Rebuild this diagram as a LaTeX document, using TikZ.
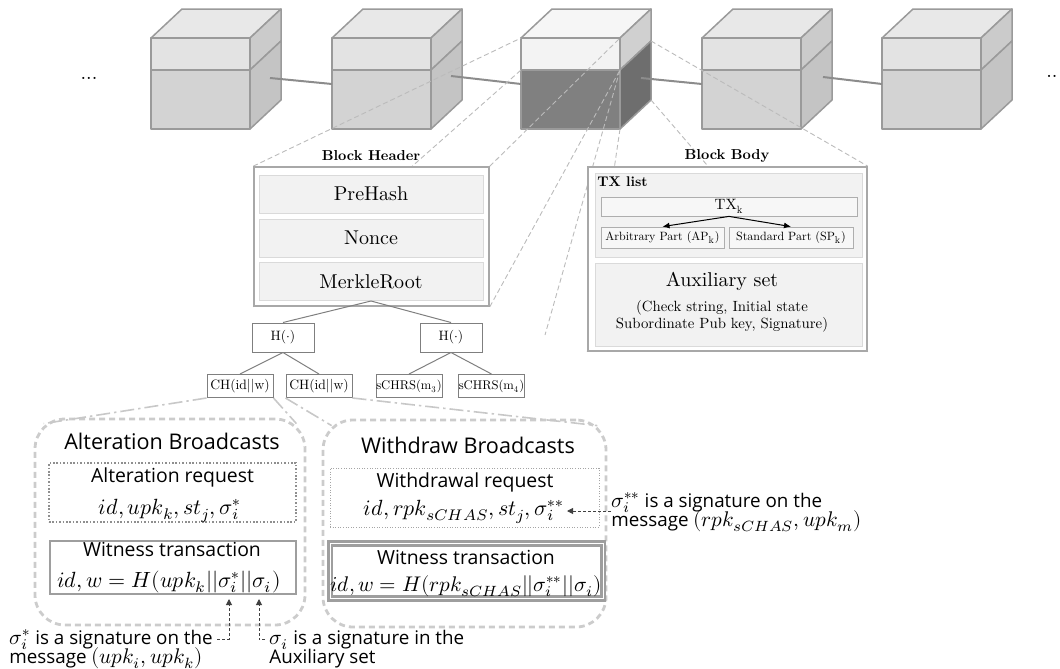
\documentclass[tikz,border=0pt]{standalone}
\usepackage{fontspec}
\usepackage{unicode-math}
\setmainfont{lmroman10-regular.otf}[BoldFont=lmroman10-bold.otf,ItalicFont=lmroman10-italic.otf]
\setsansfont{Open Sans}
\setmathfont{Latin Modern Math}
\usetikzlibrary{arrows.meta,calc}
\definecolor{cubeline}{HTML}{9A9A9A}
\definecolor{ctop}{HTML}{E8E8E8}
\definecolor{cfu}{HTML}{E3E3E3}
\definecolor{cfl}{HTML}{D3D3D3}
\definecolor{cru}{HTML}{CBCBCB}
\definecolor{crl}{HTML}{C4C4C4}
\definecolor{mtop}{HTML}{F6F6F6}
\definecolor{mfu}{HTML}{F3F3F3}
\definecolor{mfl}{HTML}{808080}
\definecolor{mru}{HTML}{D0D0D0}
\definecolor{mrl}{HTML}{6E6E6E}
\definecolor{chaingray}{HTML}{8C8C8C}
\definecolor{projgray}{HTML}{BBBBBB}
\definecolor{zoomgray}{HTML}{C8C8C8}
\definecolor{boxgray}{HTML}{A8A8A8}
\definecolor{rowline}{HTML}{DADADA}
\definecolor{rowfill}{HTML}{F2F2F2}
\definecolor{treegray}{HTML}{7F7F7F}
\definecolor{bcgray}{HTML}{CCCCCC}
\definecolor{reqgray}{HTML}{8F8F8F}
\definecolor{witgray}{HTML}{9E9E9E}
\pgfdeclarelayer{bg}
\pgfsetlayers{bg,main}
\newcommand{\drawcube}[6]{%
  \filldraw[cubeedge,fill=#2] (#1,38) -- ({#1+31},9) -- ({#1+130},9) -- ({#1+99},38) -- cycle;
  \filldraw[cubeedge,fill=#3] (#1,38) rectangle ({#1+99},70);
  \filldraw[cubeedge,fill=#4] (#1,70) rectangle ({#1+99},129);
  \filldraw[cubeedge,fill=#5] ({#1+99},38) -- ({#1+130},9) -- ({#1+130},41) -- ({#1+99},70) -- cycle;
  \filldraw[cubeedge,fill=#6] ({#1+99},70) -- ({#1+130},41) -- ({#1+130},100) -- ({#1+99},129) -- cycle;
}
\newcommand{\annmath}[1]{{\fontsize{10.6}{10}\selectfont$#1$}}
\begin{document}
\begin{tikzpicture}[x=0.5pt,y=-0.5pt,
  cubeedge/.style={draw=cubeline,line width=0.75pt,line join=round},
  chainline/.style={draw=chaingray,line width=1pt},
  projline/.style={draw=projgray,line width=0.45pt,dash pattern=on 2.5pt off 1.5pt},
  zoomline/.style={draw=zoomgray,line width=0.8pt,dash pattern=on 7pt off 2pt on 1.2pt off 2pt},
  outerbox/.style={draw=boxgray,line width=0.8pt,fill=white,inner sep=0pt},
  rowbox/.style={draw=rowline,line width=0.5pt,fill=rowfill,inner sep=0pt},
  barbox/.style={draw=rowline!80!black,line width=0.4pt,fill=rowfill!60,inner sep=0pt},
  treebox/.style={draw=treegray,line width=0.5pt,fill=white,inner sep=0pt,font=\fontsize{6.8}{8}\selectfont},
  treeline/.style={draw=treegray,line width=0.5pt},
  txarrow/.style={draw=black,line width=0.5pt,-{Latex[length=3.5pt,width=3pt]}},
  bcast/.style={draw=bcgray,line width=1.4pt,dash pattern=on 3pt off 2pt,rounded corners=15pt,inner sep=0pt},
  altreqbox/.style={draw=reqgray,line width=1pt,dash pattern=on 0.8pt off 0.9pt,inner sep=0pt},
  wdreqbox/.style={draw=reqgray!80,line width=0.5pt,dash pattern=on 0.5pt off 0.8pt,inner sep=0pt},
  witbox/.style={draw=witgray,line width=1.4pt,inner sep=0pt},
  wdwitbox/.style={draw=witgray,line width=1.4pt,double=white,double distance=0.3pt,inner sep=0pt},
  titletext/.style={font=\sffamily\fontsize{10.8}{12}\selectfont,inner sep=0pt},
  subtext/.style={font=\sffamily\fontsize{9.7}{11}\selectfont,inner sep=0pt},
  mathtext/.style={font=\fontsize{11}{13}\selectfont,inner sep=0pt},
  ann/.style={font=\sffamily\fontsize{9.4}{10}\selectfont,inner sep=0pt},
  annarrow/.style={draw=black!75,line width=0.5pt,dash pattern=on 1.5pt off 1pt,-{Triangle[length=3pt,width=3pt]}}
]
\useasboundingbox (0,0) rectangle (1060,669);

% dots
\node[font=\fontsize{10}{12}\selectfont] (dotsl) at (89,78) {...};
\node[font=\fontsize{10}{12}\selectfont,anchor=west,inner sep=0pt] (dotsr) at (1046,76) {..};

% cube coordinates
\coordinate (c1r) at (270,78);  \coordinate (c2l) at (332,84);
\coordinate (c2r) at (451,76);  \coordinate (c3l) at (521,84);
\coordinate (c3r) at (641,78);  \coordinate (c4l) at (702,84);
\coordinate (c4r) at (823,77);  \coordinate (c5l) at (882,84);
\coordinate (c3ftl) at (521,38); \coordinate (c3ftr) at (620,38);
\coordinate (c3fdl) at (521,70); \coordinate (c3fdr) at (620,70);
\coordinate (c3fbr) at (620,129);
\coordinate (c3bdr) at (651,41); \coordinate (c3bbr) at (651,100);
\coordinate (c3mid) at (545,335);

% Block header
\node[font=\bfseries\fontsize{7.2}{8}\selectfont] (hdrlabel) at (371,156) {Block Header};
\node[outerbox,minimum width=117.5pt,minimum height=69.5pt] (hdr) at (371.5,236.5) {};
\node[rowbox,minimum width=112pt,minimum height=19pt,font=\fontsize{10}{12}\selectfont] (prehash) at (371,194) {PreHash};
\node[rowbox,minimum width=112pt,minimum height=19pt,font=\fontsize{10}{12}\selectfont] (nonce) at (371,238) {Nonce};
\node[rowbox,minimum width=112pt,minimum height=19pt,font=\fontsize{10}{12}\selectfont] (merkle) at (371,281.5) {MerkleRoot};

% Block body
\node[font=\bfseries\fontsize{7.2}{8}\selectfont] (bodylabel) at (727,156) {Block Body};
\node[outerbox,minimum width=139.5pt,minimum height=92pt] (body) at (727.5,259) {};
\node[rowbox,minimum width=133.5pt,minimum height=42pt] (txpanel) at (728.5,215) {};
\node[anchor=west,font=\bfseries\fontsize{7}{8}\selectfont,inner sep=0pt] (txlist) at (597,182) {TX list};
\node[barbox,minimum width=128pt,minimum height=9.5pt,font=\fontsize{7.5}{8}\selectfont] (txk) at (729,206.5) {TX\textsubscript{k}};
\node[barbox,minimum width=61.5pt,minimum height=10.5pt,font=\fontsize{6}{7}\selectfont] (ap) at (662.5,237.5) {Arbitrary Part (AP\textsubscript{k})};
\node[barbox,minimum width=62pt,minimum height=10.5pt,font=\fontsize{6}{7}\selectfont] (sp) at (791,237.5) {Standard Part (SP\textsubscript{k})};
\draw[txarrow] (txk.south) -- (ap.north);
\draw[txarrow] (txk.south) -- (sp.north);
\node[rowbox,minimum width=133.5pt,minimum height=41.5pt] (aux) at (728.5,304.5) {};
\node[font=\fontsize{10}{12}\selectfont] (auxt) at (722,281) {Auxiliary set};
\node[font=\fontsize{7.4}{8.5}\selectfont,align=center] (auxd) at (722,316.5) {(Check string, Initial state\\Subordinate Pub key, Signature)};

% Merkle tree
\node[treebox,minimum width=31pt,minimum height=14.5pt] (h1) at (283,337.5) {H($\cdot$)};
\node[treebox,minimum width=31pt,minimum height=14.5pt] (h2) at (451,337.5) {H($\cdot$)};
\node[treebox,minimum width=33pt,minimum height=11.5pt] (ch1) at (240,386) {CH(id||w)};
\node[treebox,minimum width=33pt,minimum height=11.5pt] (ch2) at (319,386) {CH(id||w)};
\node[treebox,minimum width=33pt,minimum height=11.5pt,font=\fontsize{6.3}{7}\selectfont] (s1) at (409,386) {sCHRS(m\textsubscript{3})};
\node[treebox,minimum width=33pt,minimum height=11.5pt,font=\fontsize{6.3}{7}\selectfont] (s2) at (491.5,386) {sCHRS(m\textsubscript{4})};
\draw[treeline] (merkle.south) -- (h1.north);
\draw[treeline] (merkle.south) -- (h2.north);
\draw[treeline] (h1.south) -- (ch1.north);
\draw[treeline] (h1.south) -- (ch2.north);
\draw[treeline] (h2.south) -- (s1.north);
\draw[treeline] (h2.south) -- (s2.north);

% Broadcast boxes
\node[bcast,minimum width=135pt,minimum height=103pt] (alt) at (170,522) {};
\node[bcast,minimum width=141.5pt,minimum height=103.5pt] (wd) at (464.5,523.5) {};
\node[titletext,anchor=base] (alttitle) at (172,449.5) {Alteration Broadcasts};
\node[titletext,anchor=base] (wdtitle) at (468,453) {Withdraw Broadcasts};

\node[altreqbox,minimum width=123.5pt,minimum height=29.5pt] (altreq) at (172.5,492.5) {};
\node[subtext,anchor=base] (altreqt) at (172.5,482) {Alteration request};
\node[mathtext,anchor=base] (altreqm) at (170,514) {$id, upk_k, st_j, \sigma_i^{*}$};
\node[witbox,minimum width=123pt,minimum height=26.5pt] (altwit) at (173,567.5) {};
\node[subtext,anchor=base] (altwitt) at (172,556) {Witness transaction};
\node[mathtext,anchor=base] (altwitm) at (169,587) {$id, w = H(upk_k||\sigma_i^{*}||\sigma_i)$};

\node[wdreqbox,minimum width=134.5pt,minimum height=29.5pt] (wdreq) at (464.5,497.5) {};
\node[subtext,anchor=base] (wdreqt) at (465,487) {Withdrawal request};
\node[mathtext,anchor=base] (wdreqm) at (464,515) {$id, rpk_{sCHAS}, st_j, \sigma_i^{**}$};
\node[wdwitbox,minimum width=136.5pt,minimum height=27.5pt] (wdwit) at (466.5,571) {};
\node[subtext,anchor=base] (wdwitt) at (466,564.5) {Witness transaction};
\node[mathtext,anchor=base,font=\fontsize{10.6}{12}\selectfont] (wdwitm) at (466,591) {$id, w = H(rpk_{sCHAS}||\sigma_i^{**}||\sigma_i)$};

% zoom lines from CH nodes
\draw[zoomline] (ch1.south west) -- ($(alt.north west)+(10,6)$);
\draw[zoomline] (ch1.south east) -- ($(alt.north east)+(-10,6)$);
\draw[zoomline] (ch2.south west) -- ($(wd.north west)+(10,7)$);
\draw[zoomline] (ch2.south east) -- ($(wd.north east)+(-10,7)$);

% annotations
\node[ann,anchor=base west] (annR1) at (611,507) {\annmath{\sigma_i^{**}} is a signature on the};
\node[ann,anchor=base west] (annR2) at (611,526) {message \annmath{(rpk_{sCHAS}, upk_m)}};
\coordinate (tipR) at (567,511);
\draw[annarrow] (annR1.west |- tipR) -- (tipR);

\node[ann,anchor=base west] (annL1) at (9,644) {\annmath{\sigma_i^{*}} is a signature on the};
\node[ann,anchor=base west] (annL2) at (9,663) {message \annmath{(upk_i, upk_k)}};
\node[ann,anchor=base west] (annM1) at (269,644) {\annmath{\sigma_i} is a signature in the};
\node[ann,anchor=base west] (annM2) at (269,663) {Auxiliary set};
\coordinate (tipA) at (229,599);
\coordinate (tipB) at (259,599);
\draw[annarrow] ([xshift=2pt]annL1.east) -| (tipA);
\draw[annarrow] ([xshift=-2pt]annM1.west) -| (tipB);

% background: cubes and projection lines
\begin{pgfonlayer}{bg}
  \drawcube{151}{ctop}{cfu}{cfl}{cru}{crl}
  \drawcube{332}{ctop}{cfu}{cfl}{cru}{crl}
  \drawcube{521}{mtop}{mfu}{mfl}{mru}{mrl}
  \drawcube{702}{ctop}{cfu}{cfl}{cru}{crl}
  \drawcube{882}{ctop}{cfu}{cfl}{cru}{crl}
  \draw[chainline] (c1r) -- (c2l);
  \draw[chainline] (c2r) -- (c3l);
  \draw[chainline] (c3r) -- (c4l);
  \draw[chainline] (c4r) -- (c5l);
  \draw[projline] (hdr.north west) -- (c3ftl);
  \draw[projline] (hdr.south west) -- (c3fdl);
  \draw[projline] (hdr.north east) -- (c3ftr);
  \draw[projline] (hdr.south east) -- (c3fdr);
  \draw[projline] (c3fdr) -- (c3mid);
  \draw[projline] (c3fbr) -- (body.south west);
  \draw[projline] (c3bdr) -- (body.north east);
  \draw[projline] (c3bbr) -- (body.south east);
\end{pgfonlayer}
\end{tikzpicture}
\end{document}
